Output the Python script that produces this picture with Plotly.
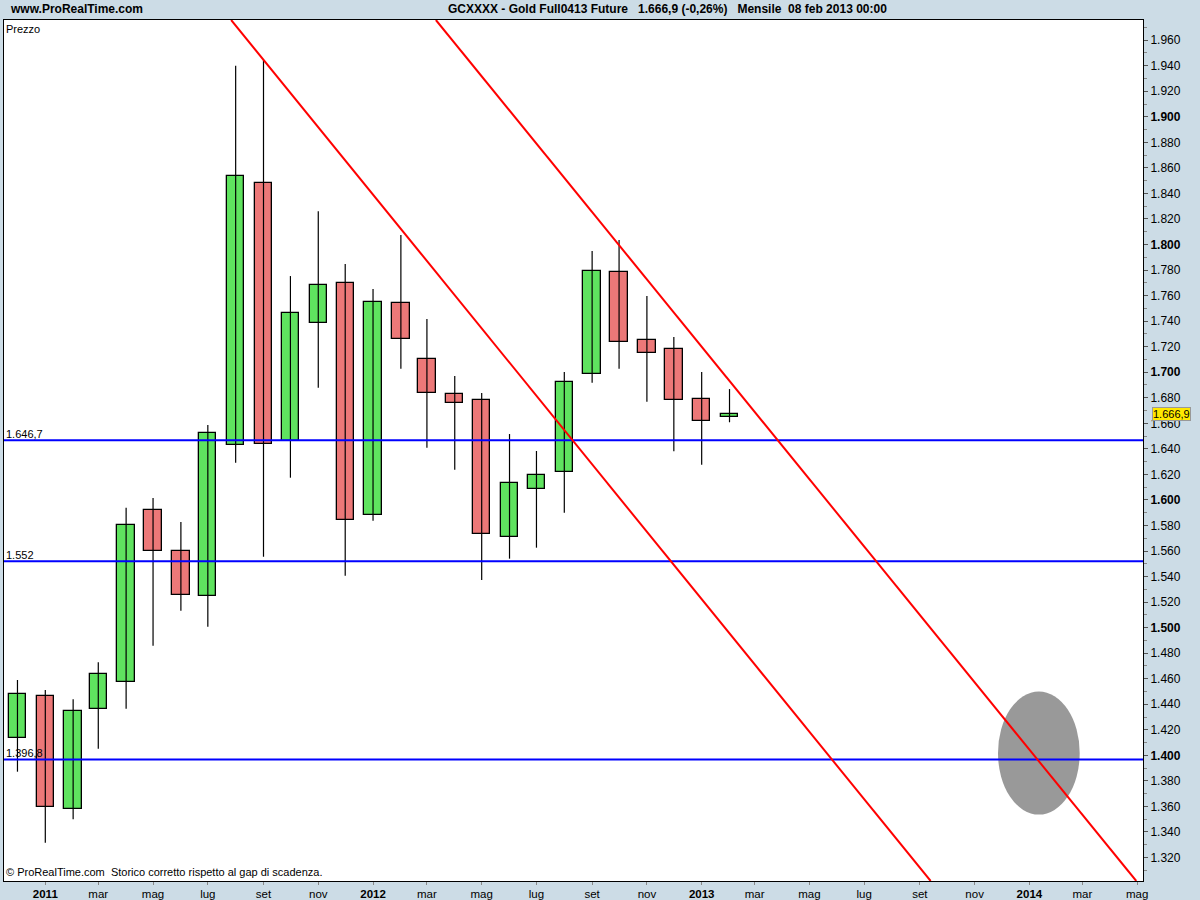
import plotly.graph_objects as go
import pandas as pd

# ---------------- data ----------------
months = ["2010-12-01", "2011-01-01", "2011-02-01", "2011-03-01", "2011-04-01", "2011-05-01",
          "2011-06-01", "2011-07-01", "2011-08-01", "2011-09-01", "2011-10-01", "2011-11-01",
          "2011-12-01", "2012-01-01", "2012-02-01", "2012-03-01", "2012-04-01", "2012-05-01",
          "2012-06-01", "2012-07-01", "2012-08-01", "2012-09-01", "2012-10-01", "2012-11-01",
          "2012-12-01", "2013-01-01", "2013-02-01"]
opens = [1413.3, 1446.4, 1357.7, 1436.0, 1457.2, 1591.9, 1559.7, 1524.5, 1642.8, 1847.9,
         1645.9, 1738.3, 1769.6, 1587.9, 1754.0, 1710.1, 1682.7, 1678.0, 1570.7, 1608.3,
         1621.6, 1698.4, 1778.2, 1725.0, 1717.9, 1678.8, 1665.2]
highs = [1459.0, 1451.1, 1443.9, 1472.8, 1593.9, 1601.5, 1582.7, 1658.7, 1939.9, 1944.6,
         1775.3, 1826.1, 1784.7, 1765.1, 1807.4, 1741.6, 1697.1, 1683.7, 1651.6, 1638.3,
         1700.2, 1794.9, 1803.5, 1759.6, 1727.6, 1700.2, 1686.8]
lows = [1387.2, 1331.6, 1349.9, 1405.2, 1436.5, 1485.8, 1513.2, 1500.7, 1629.1, 1555.5,
        1617.4, 1687.9, 1540.6, 1583.7, 1702.7, 1640.9, 1623.6, 1537.3, 1554.0, 1562.6,
        1590.0, 1691.8, 1702.7, 1676.9, 1638.1, 1627.5, 1660.8]
closes = [1447.8, 1359.3, 1434.7, 1463.4, 1580.1, 1559.7, 1525.3, 1652.2, 1853.7, 1643.5,
          1746.1, 1768.0, 1584.0, 1754.7, 1725.8, 1683.5, 1675.6, 1573.1, 1613.0, 1619.3,
          1692.1, 1779.0, 1723.4, 1714.8, 1678.0, 1661.6, 1666.9]

levels = [1646.7, 1552.0, 1396.8]
level_labels = ["1.646,7", "1.552", "1.396,8"]

# descending trend lines (two points each)
line1_x = ["2011-07-27", "2013-09-13"]
line1_y = [1975.8, 1301.6]
line2_x = ["2012-03-11", "2014-04-30"]
line2_y = [1975.8, 1301.6]

# grey ellipse zone
ellipse_x = ["2013-11-27", "2014-02-26"]
ellipse_y = [1353.6, 1449.9]

x_range = ["2010-11-16", "2014-05-07 12:00"]
y_range = [1301.6, 1975.8]

xtick_vals = pd.date_range("2011-01-01", "2014-05-01", freq="2MS")
xtick_names = {3: "mar", 5: "mag", 7: "lug", 9: "set", 11: "nov"}

last_price = 1666.9
last_label = "1.666,9"

# ---------------- figure ----------------
GREEN = "#5fe35f"
RED = "#ec7878"
dates = pd.to_datetime(months)
bar_w = 19.3 * 86400000

fig = go.Figure()

# wicks
wx, wy = [], []
for d, h, l in zip(dates, highs, lows):
    wx += [d, d, None]
    wy += [l, h, None]
fig.add_trace(go.Scatter(x=wx, y=wy, mode="lines", line=dict(color="black", width=1.2),
                         hoverinfo="skip", showlegend=False))

# bodies
for up, col in [(True, GREEN), (False, RED)]:
    bx, bb, bh = [], [], []
    for d, o, c in zip(dates, opens, closes):
        if (c >= o) == up:
            bx.append(d)
            bb.append(min(o, c))
            bh.append(abs(c - o))
    fig.add_trace(go.Bar(x=bx, y=bh, base=bb, width=bar_w,
                         marker=dict(color=col, line=dict(color="black", width=1.3)),
                         showlegend=False))

# horizontal levels
for lv in levels:
    fig.add_trace(go.Scatter(x=[x_range[0], "2014-06-30"], y=[lv, lv], mode="lines",
                             line=dict(color="#0000ff", width=2), showlegend=False,
                             hoverinfo="skip"))
# red trend lines
for lx, ly in [(line1_x, line1_y), (line2_x, line2_y)]:
    fig.add_trace(go.Scatter(x=lx, y=ly, mode="lines", line=dict(color="#ff0000", width=2),
                             showlegend=False, hoverinfo="skip"))

fig.add_shape(type="circle", xref="x", yref="y", x0=ellipse_x[0], x1=ellipse_x[1],
              y0=ellipse_y[0], y1=ellipse_y[1], fillcolor="#999999", line=dict(width=0),
              layer="below")

# axis ticks
yvals = list(range(1320, 1961, 20))
ytext = []
for v in yvals:
    s = f"{v // 1000}.{v % 1000:03d}"
    ytext.append(f"<b>{s}</b>" if v % 100 == 0 else s)
yminor = list(range(1310, 1971, 20))

xtext = []
for d in xtick_vals:
    if d.month == 1:
        xtext.append(f"<b>{d.year}</b>")
    else:
        xtext.append(xtick_names[d.month])

FONT = "Liberation Sans, Arial, sans-serif"

fig.update_layout(
    width=1200, height=900,
    margin=dict(l=4, r=57, t=20, b=19),
    paper_bgcolor="#ccdce6", plot_bgcolor="white",
    barmode="overlay", bargap=0,
    showlegend=False,
    font=dict(family=FONT, size=11, color="black"),
    xaxis=dict(type="date", range=x_range, showgrid=False, zeroline=False,
               tickmode="array", tickvals=list(xtick_vals), ticktext=xtext,
               ticks="outside", ticklen=3, tickcolor="#888888", ticklabelstandoff=-1,
               showline=True, linecolor="black", linewidth=1, mirror=True,
               tickfont=dict(family=FONT, size=11.5), fixedrange=True, automargin=False),
    yaxis=dict(range=y_range, side="right", showgrid=False, zeroline=False,
               tickmode="array", tickvals=yvals, ticktext=ytext,
               ticks="outside", ticklen=4, tickcolor="#555555",
               minor=dict(tickmode="array", tickvals=yminor, ticks="outside", ticklen=3,
                          tickcolor="#888888"),
               showline=True, linecolor="black", linewidth=1, mirror=True,
               tickfont=dict(family=FONT, size=12), fixedrange=True, automargin=False),
)

# level labels
for lv, lab in zip(levels, level_labels):
    fig.add_annotation(xref="paper", yref="y", x=0.0, y=lv, text=lab, showarrow=False,
                       xanchor="left", yanchor="bottom", yshift=-2,
                       font=dict(family=FONT, size=11, color="black"))

# last price tag
fig.add_annotation(xref="paper", yref="y", x=1.0, xshift=9, y=last_price, text=last_label,
                   showarrow=False, xanchor="left", yanchor="middle",
                   bgcolor="#ffe800", bordercolor="#999999", borderwidth=1, borderpad=0,
                   font=dict(family=FONT, size=11, color="black"))

# texts
fig.add_annotation(xref="paper", yref="paper", x=0.0, y=1.0, yshift=-1, text="Prezzo",
                   showarrow=False, xanchor="left", yanchor="top",
                   font=dict(family=FONT, size=11, color="black"))
fig.add_annotation(xref="paper", yref="paper", x=0.0, y=0.0, yshift=1,
                   text="© ProRealTime.com  Storico corretto rispetto al gap di scadenza.",
                   showarrow=False, xanchor="left", yanchor="bottom",
                   font=dict(family=FONT, size=11, color="black"))
fig.add_annotation(xref="paper", yref="paper", x=4 / 1139, y=1.0, yshift=11,
                   text="<b>www.ProRealTime.com</b>", showarrow=False, xanchor="left",
                   yanchor="middle", font=dict(family=FONT, size=12, color="black"))
fig.add_annotation(xref="paper", yref="paper", x=(446 - 4) / 1139, y=1.0, yshift=11,
                   text="<b>GCXXXX - Gold Full0413 Future   1.666,9 (-0,26%)   Mensile  08 feb 2013 00:00</b>",
                   showarrow=False, xanchor="left", yanchor="middle",
                   font=dict(family=FONT, size=12, color="black"))

fig.write_html("out.html", config={"displayModeBar": False},
               post_script="document.body.style.margin='0';")
